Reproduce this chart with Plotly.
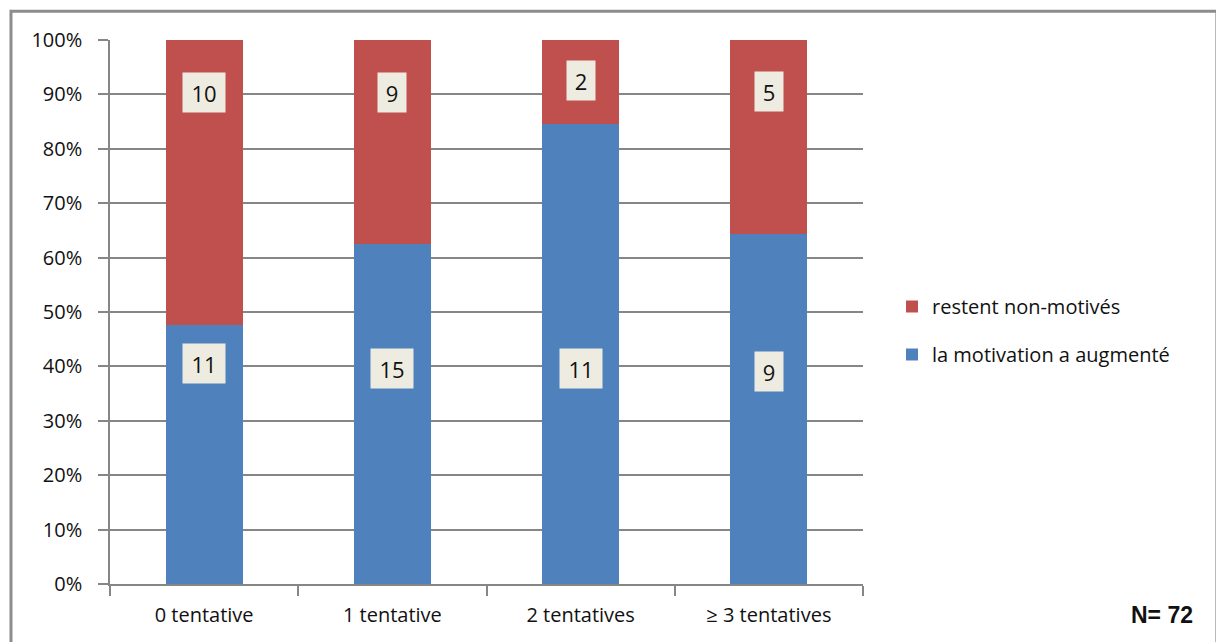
import plotly.graph_objects as go

categories = ["0 tentative", "1 tentative", "2 tentatives", "≥ 3 tentatives"]
# bar heights (percent of each column)
pct_motivation = [47.6, 62.5, 84.6, 64.3]
pct_non_motives = [52.4, 37.5, 15.4, 35.7]
# counts shown in the label boxes
count_motivation = [11, 15, 11, 9]
count_non_motives = [10, 9, 2, 5]
total_n = "N= 72"
y_ticks = list(range(0, 101, 10))
y_tick_text = [f"{v}%" for v in y_ticks]

# label box vertical positions (percent on the y axis)
LABEL_Y_BLUE = [40.6, 39.7, 39.7, 39.0]
LABEL_Y_RED = [90.3, 90.4, 92.5, 90.6]

BLUE = "#4f81bd"
RED = "#c0504d"
GRID = "#868686"
FONT = "Open Sans, Lato, sans-serif"

fig = go.Figure()
fig.add_trace(go.Bar(name="la motivation a augmenté", x=categories, y=pct_motivation,
                     marker=dict(color=BLUE, line=dict(width=0)), legendgroup="b", legendrank=2))
fig.add_trace(go.Bar(name="restent non-motivés", x=categories, y=pct_non_motives,
                     marker=dict(color=RED, line=dict(width=0)), legendgroup="a", legendrank=1))

ann = []
for cat, c, yy in zip(categories, count_motivation, LABEL_Y_BLUE):
    ann.append((cat, c, yy))
for cat, c, yy in zip(categories, count_non_motives, LABEL_Y_RED):
    ann.append((cat, c, yy))
for cat, c, yy in ann:
    txt = str(c)
    fig.add_annotation(x=cat, y=yy, xref="x", yref="y", text=txt, showarrow=False,
                       bgcolor="#eeece1", font=dict(family=FONT, size=22, color="#111"),
                       width=14 * len(txt) + 12, height=37, borderpad=1,
                       align="center", valign="middle")

fig.add_annotation(x=1.397, y=-0.057, xref="paper", yref="paper", text="<b>" + total_n + "</b>",
                   showarrow=False, xanchor="center", yanchor="middle",
                   font=dict(family="Liberation Sans Narrow, Liberation Sans, Arial", size=23, color="#111"))

# outer frame
fig.add_shape(type="rect", xref="paper", yref="paper", x0=-0.1315, x1=1.47, y0=-0.12, y1=1.053,
              line=dict(color="#8c8c8c", width=3), fillcolor="rgba(0,0,0,0)", layer="below")

fig.update_layout(
    barmode="stack",
    bargap=0.59,
    width=1216, height=642,
    margin=dict(l=110, r=353, t=40, b=58, autoexpand=False),
    paper_bgcolor="white", plot_bgcolor="white",
    font=dict(family=FONT, size=20, color="#111"),
    showlegend=True,
    legend=dict(x=1.0385, y=0.466, xanchor="left", yanchor="middle", traceorder="grouped",
                tracegroupgap=19, font=dict(family=FONT, size=20, color="#111"),
                bgcolor="rgba(0,0,0,0)"),
    xaxis=dict(showline=True, linecolor=GRID, linewidth=1.5, ticks="outside", tickson="boundaries",
               ticklen=10, tickcolor=GRID, tickwidth=1.5, showgrid=False, ticklabelstandoff=12,
               tickfont=dict(family=FONT, size=20, color="#111")),
    yaxis=dict(range=[0, 100], tickmode="array", tickvals=y_ticks, ticktext=y_tick_text,
               showline=True, linecolor=GRID, linewidth=1.5, ticks="outside", ticklen=10,
               tickcolor=GRID, tickwidth=1.5, showgrid=True, gridcolor=GRID, gridwidth=1.5,
               zeroline=False, ticklabelstandoff=12,
               tickfont=dict(family=FONT, size=20, color="#111")),
)

fig.write_html("out.html", config={"displayModeBar": False},
               post_script="document.body.style.margin='0';document.body.style.overflow='hidden';")
